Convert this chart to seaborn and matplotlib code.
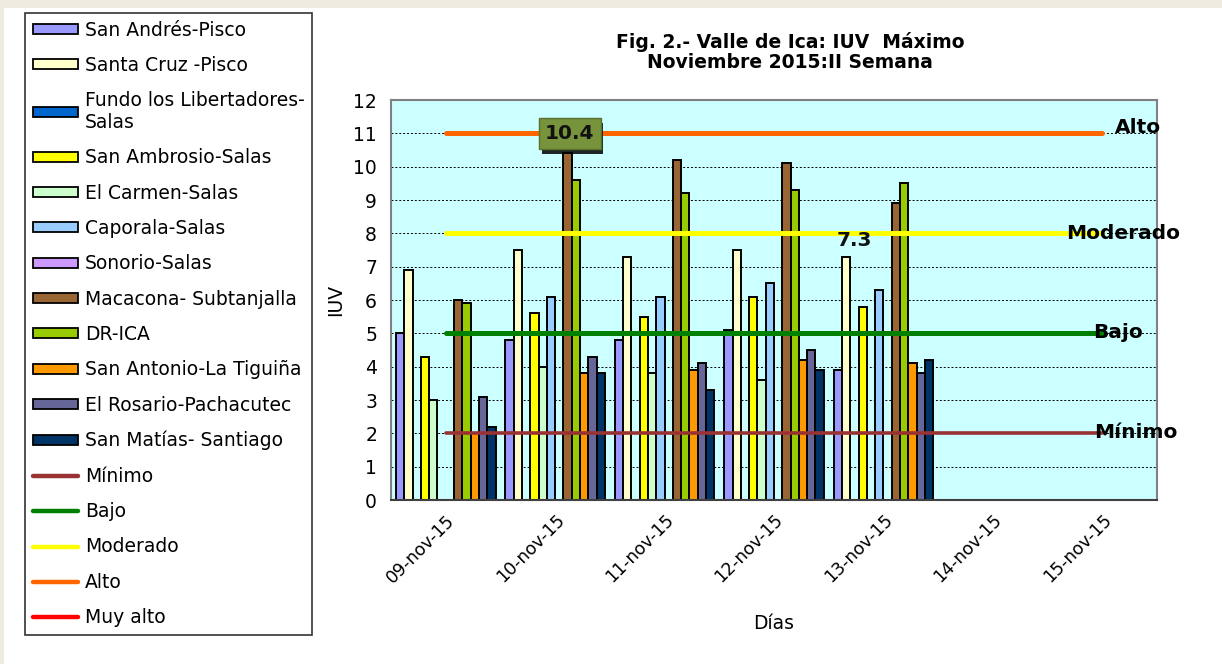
import numpy as np
import pandas as pd
import matplotlib
matplotlib.use("Agg")
import matplotlib.pyplot as plt
import matplotlib.patheffects as pe
from matplotlib.patches import Patch, Rectangle
from matplotlib.lines import Line2D
import seaborn as sns

# --- datos ---
fechas = ["09-nov-15", "10-nov-15", "11-nov-15", "12-nov-15",
          "13-nov-15", "14-nov-15", "15-nov-15"]

estaciones = ["San Andrés-Pisco", "Santa Cruz -Pisco", "Fundo los Libertadores-\nSalas",
              "San Ambrosio-Salas", "El Carmen-Salas", "Caporala-Salas", "Sonorio-Salas",
              "Macacona- Subtanjalla", "DR-ICA", "San Antonio-La Tiguiña",
              "El Rosario-Pachacutec", "San Matías- Santiago"]

colores = ["#9999FF", "#FFFFCC", "#0066CC", "#FFFF00", "#CCFFCC", "#99CCFF",
           "#CC99FF", "#996633", "#99CC00", "#FF9900", "#666699", "#003366"]

nan = np.nan
# valores 09-nov .. 13-nov (14 y 15 sin datos)
san_andres = [5.0, 4.8, 4.8, 5.1, 3.9]
santa_cruz = [6.9, 7.5, 7.3, 7.5, 7.3]
fundo_libertadores = [nan, nan, nan, nan, nan]
san_ambrosio = [4.3, 5.6, 5.5, 6.1, 5.8]
el_carmen = [3.0, 4.0, 3.8, 3.6, nan]
caporala = [nan, 6.1, 6.1, 6.5, 6.3]
sonorio = [nan, nan, nan, nan, nan]
macacona = [6.0, 10.4, 10.2, 10.1, 8.9]
dr_ica = [5.9, 9.6, 9.2, 9.3, 9.5]
san_antonio = [2.0, 3.8, 3.9, 4.2, 4.1]
el_rosario = [3.1, 4.3, 4.1, 4.5, 3.8]
san_matias = [2.2, 3.8, 3.3, 3.9, 4.2]

series = [san_andres, santa_cruz, fundo_libertadores, san_ambrosio, el_carmen,
          caporala, sonorio, macacona, dr_ica, san_antonio, el_rosario, san_matias]

niveles = ["Mínimo", "Bajo", "Moderado", "Alto", "Muy alto"]
niveles_valor = [2, 5, 8, 11, None]   # "Muy alto" queda fuera de escala
niveles_color = ["#993333", "#008000", "#FFFF00", "#FF6600", "#FF0000"]
niveles_ancho = [2.6, 3.6, 3.6, 3.6, 3.6]


def build_df() -> pd.DataFrame:
    rows = []
    for est, vals in zip(estaciones, series):
        for fecha, v in zip(fechas, vals):
            rows.append({"fecha": fecha, "estacion": est, "iuv": v})
    return pd.DataFrame(rows).dropna()


def main():
    sns.set_style("white")
    plt.rcParams["font.family"] = ["DejaVu Sans"]
    plt.rcParams["text.color"] = "black"
    plt.rcParams["axes.labelcolor"] = "black"
    plt.rcParams["xtick.labelcolor"] = "black"
    plt.rcParams["ytick.labelcolor"] = "black"

    fig = plt.figure(figsize=(12.22, 6.64), dpi=100, facecolor="#EEECE1")
    fig.patches.append(Rectangle((4 / 1222, 0), 1, 1 - 8 / 664, transform=fig.transFigure,
                                 facecolor="white", edgecolor="none", zorder=-1))
    ax = fig.add_axes([391 / 1222, 164 / 664, 766 / 1222, 400 / 664])
    ax.set_facecolor("#CCFFFF")

    df = build_df()
    ancho = 0.91
    sns.barplot(data=df, x="fecha", y="iuv", hue="estacion", order=fechas,
                hue_order=estaciones, palette=dict(zip(estaciones, colores)),
                saturation=1, width=ancho, errorbar=None, edgecolor="black",
                linewidth=1.4, legend=False, ax=ax, zorder=2)

    # lineas de niveles
    pos = np.arange(len(fechas))
    for nombre, val, col, lw in zip(niveles, niveles_valor, niveles_color, niveles_ancho):
        if val is None:
            continue
        sns.lineplot(x=pos, y=[val] * len(pos), color=col, linewidth=lw,
                     solid_capstyle="round", ax=ax, zorder=3)

    # etiquetas de niveles (desplazamientos en unidades de categoria)
    desp = {"Mínimo": 0.31, "Bajo": 0.14, "Moderado": 0.19, "Alto": 0.33}
    dy = {"Mínimo": 0.02, "Bajo": 0.03, "Moderado": 0.0, "Alto": 0.18}
    for nombre, val in zip(niveles, niveles_valor):
        if val is None:
            continue
        ax.text(pos[-1] + desp[nombre], val + dy[nombre], nombre, ha="center", va="center",
                fontsize=14.5, fontweight="bold", zorder=5, clip_on=False)

    # etiquetas de datos destacadas
    def bar_x(i_fecha, est):
        k = estaciones.index(est)
        return i_fecha - ancho / 2 + (k + 0.5) * ancho / len(estaciones)

    i_max = int(np.nanargmax(macacona))
    t = ax.text(bar_x(i_max, estaciones[7]) + 0.02, 11.0, f"{macacona[i_max]:.1f}",
                ha="center", va="center", fontsize=14.5, fontweight="bold",
                color="#111111", zorder=6,
                bbox=dict(boxstyle="square,pad=0.3", facecolor="#77933C", edgecolor="#5a7030"))
    t.get_bbox_patch().set_path_effects([pe.withSimplePatchShadow(offset=(2, -4), shadow_rgbFace="black", alpha=0.85)])
    ax.text(bar_x(4, estaciones[1]) + 0.08, 7.8, f"{santa_cruz[4]:.1f}", ha="center", va="center",
            fontsize=14.5, fontweight="bold", color="#111111", zorder=6)

    # ejes
    ax.set_xlim(-0.5, len(fechas) - 0.5)
    ax.set_ylim(0, 12)
    ax.set_yticks(range(0, 13))
    ax.set_xticks(pos)
    ax.set_xticklabels(fechas, rotation=45, ha="right", rotation_mode="anchor", fontsize=12.5)
    ax.set_xticks(np.arange(-0.5, len(fechas)), minor=True)
    ax.tick_params(axis="x", which="major", length=0, pad=8)
    ax.tick_params(axis="x", which="minor", length=6, width=1.2, color="#404040", direction="out")
    ax.tick_params(axis="y", length=6, width=1, color="#808080", direction="out", labelsize=13.5, pad=4)
    for yv in range(1, 12):
        ax.axhline(yv, color="black", linewidth=0.7, linestyle=(0, (2, 2)), zorder=1)
    for s in ["top", "right", "left"]:
        ax.spines[s].set_color("#808080")
        ax.spines[s].set_linewidth(1.5)
    ax.spines["bottom"].set_color("#404040")
    ax.spines["bottom"].set_linewidth(1.5)
    ax.set_xlabel("Días", fontsize=13.5, labelpad=20)
    ax.set_ylabel("IUV", fontsize=13.5, labelpad=6)

    fig.text(790 / 1222, 1 - 52 / 664, "Fig. 2.- Valle de Ica: IUV  Máximo\nNoviembre 2015:II Semana",
             ha="center", va="center", fontsize=13.5, fontweight="bold", linespacing=1.05)

    # leyenda
    handles = [Patch(facecolor=c, edgecolor="black", linewidth=1.3) for c in colores]
    handles += [Line2D([0], [0], color=c, linewidth=3.2) for c in niveles_color]
    labels = estaciones + niveles
    leg = fig.legend(handles, labels, loc="upper left", bbox_to_anchor=(25 / 1222, 1 - 13 / 664),
                     fontsize=13.5, frameon=True, fancybox=False, edgecolor="black",
                     handlelength=2.4, handleheight=0.45, handletextpad=0.4,
                     labelspacing=0.87, borderpad=0.4, borderaxespad=0)
    leg.get_frame().set_linewidth(1.2)

    fig.savefig("out.png", dpi=100, facecolor=fig.get_facecolor())
    plt.close(fig)


if __name__ == "__main__":
    main()
